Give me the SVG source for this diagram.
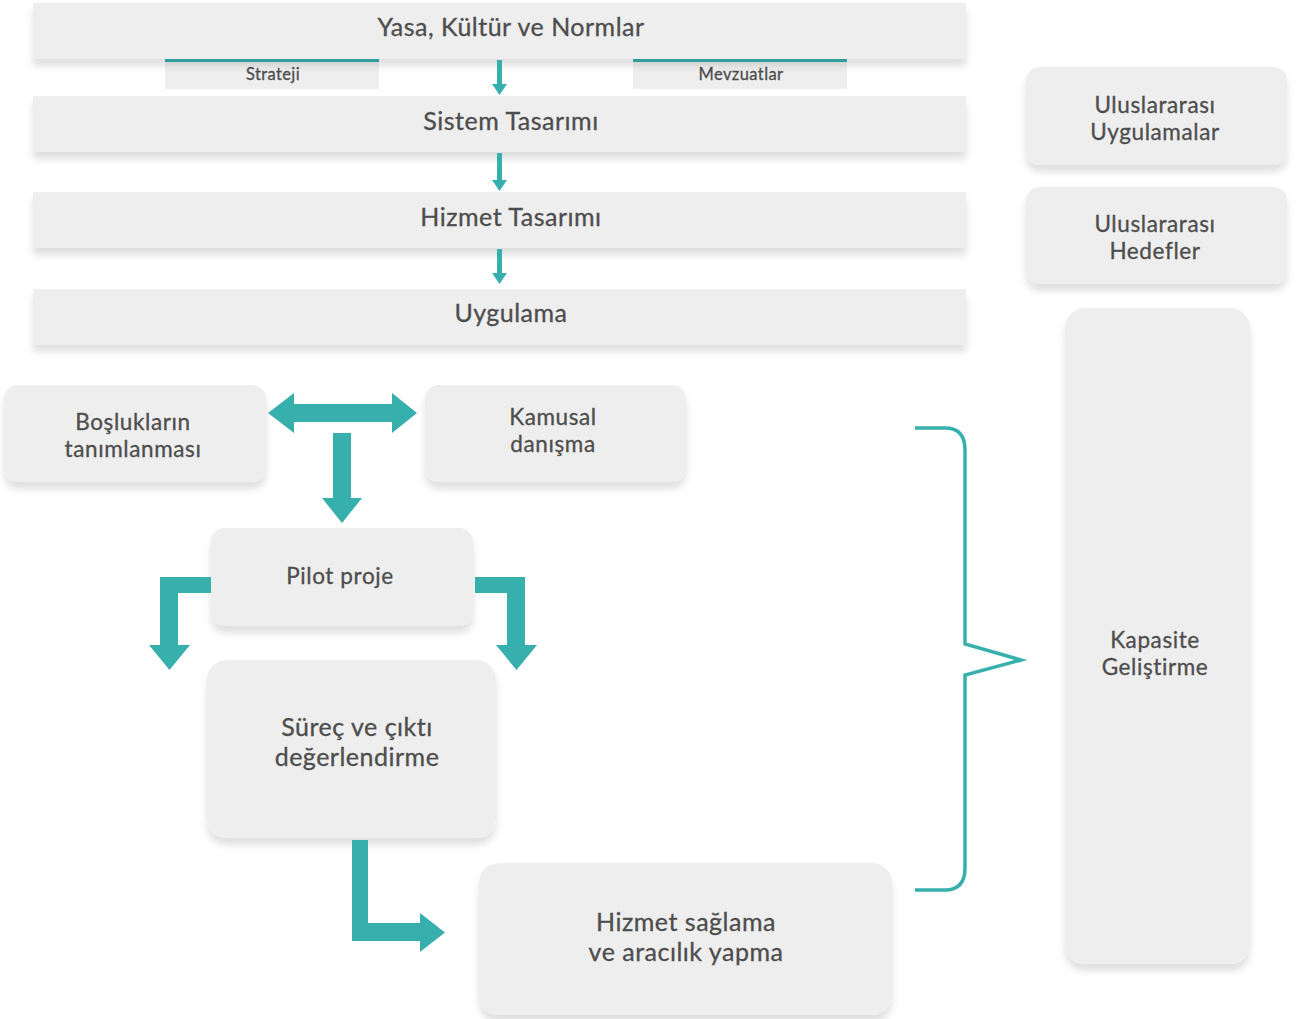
<svg xmlns="http://www.w3.org/2000/svg" width="1301" height="1019" viewBox="0 0 1301 1019">
<defs>
<filter id="sh" x="-5%" y="-20%" width="110%" height="160%">
<feDropShadow dx="0" dy="7" stdDeviation="3.5" flood-color="#000" flood-opacity="0.12"/>
</filter>
<style>
.box{fill:#eeeeee;filter:url(#sh)}
.tab{fill:#eeeeee}
.t{font-family:Lato,"Open Sans",sans-serif;fill:#4d4d4d;stroke:#4d4d4d;stroke-width:0.3px;text-anchor:middle}
.big{font-size:25px;letter-spacing:0.5px}
.mid{font-size:22.5px;letter-spacing:0.6px}
.sm{font-size:16.5px;letter-spacing:0.4px}
.teal{fill:#37b0ad}
.brace{fill:none;stroke:#37b0ad;stroke-width:3.5;stroke-linejoin:miter}
</style>
</defs>
<rect width="1301" height="1019" fill="#ffffff"/>

<g id="tab-strateji">
<rect class="tab" x="165" y="59" width="214" height="30"/>
<rect class="teal" x="165" y="59" width="214" height="3"/>
<text class="t sm" x="273" y="80">Strateji</text>
</g>
<g id="tab-mevzuatlar">
<rect class="tab" x="633" y="59" width="214" height="30"/>
<rect class="teal" x="633" y="59" width="214" height="3"/>
<text class="t sm" x="741" y="80">Mevzuatlar</text>
</g>

<g id="yasa">
<rect class="box" x="33" y="3" width="933" height="56"/>
<text class="t big" x="511" y="36">Yasa, Kültür ve Normlar</text>
</g>
<g id="sistem">
<rect class="box" x="33" y="96" width="933" height="56"/>
<text class="t big" x="511" y="130">Sistem Tasarımı</text>
</g>
<g id="hizmet-tasarimi">
<rect class="box" x="33" y="192" width="933" height="56"/>
<text class="t big" x="511" y="226">Hizmet Tasarımı</text>
</g>
<g id="uygulama">
<rect class="box" x="33" y="289" width="933" height="56"/>
<text class="t big" x="511" y="322">Uygulama</text>
</g>

<g id="uluslararasi-uygulamalar">
<rect class="box" x="1026" y="67" width="261" height="98" rx="14"/>
<text class="t mid" x="1155" y="113">Uluslararası</text>
<text class="t mid" x="1155" y="140">Uygulamalar</text>
</g>
<g id="uluslararasi-hedefler">
<rect class="box" x="1026" y="187" width="261" height="97" rx="14"/>
<text class="t mid" x="1155" y="232">Uluslararası</text>
<text class="t mid" x="1155" y="259">Hedefler</text>
</g>
<g id="kapasite">
<rect class="box" x="1065" y="308" width="185" height="656" rx="20"/>
<text class="t mid" x="1155" y="648">Kapasite</text>
<text class="t mid" x="1155" y="675">Geliştirme</text>
</g>

<g id="bosluklar">
<rect class="box" x="4" y="385" width="262" height="97" rx="14"/>
<text class="t mid" x="133" y="430">Boşlukların</text>
<text class="t mid" x="133" y="457">tanımlanması</text>
</g>
<g id="kamusal">
<rect class="box" x="425" y="385" width="261" height="97" rx="14"/>
<text class="t mid" x="553" y="425">Kamusal</text>
<text class="t mid" x="553" y="452">danışma</text>
</g>
<g id="pilot">
<rect class="box" x="211" y="528" width="262" height="98" rx="14"/>
<text class="t mid" x="340" y="584">Pilot proje</text>
</g>
<g id="surec">
<rect class="box" x="207" y="660" width="289" height="178" rx="20"/>
<text class="t big" x="357" y="736">Süreç ve çıktı</text>
<text class="t big" x="357" y="766">değerlendirme</text>
</g>
<g id="hizmet-saglama">
<rect class="box" x="479" y="863" width="413" height="152" rx="20"/>
<text class="t big" x="686" y="931">Hizmet sağlama</text>
<text class="t big" x="686" y="961">ve aracılık yapma</text>
</g>

<g id="connectors">
<rect class="teal" x="497" y="60" width="5" height="25"/>
<polygon class="teal" points="492,84 507,84 499.5,95"/>
<rect class="teal" x="497" y="153" width="5" height="28"/>
<polygon class="teal" points="492,180 507,180 499.5,191"/>
<rect class="teal" x="497" y="249" width="5" height="25"/>
<polygon class="teal" points="492,273 507,273 499.5,284"/>
<polygon class="teal" points="268,413 294,393 294,404 392,404 392,393 417,413 392,433 392,422 294,422 294,433"/>
<polygon class="teal" points="333,433 351,433 351,498 362,498 342,523 322,498 333,498"/>
<polygon class="teal" points="211,577 211,593 178,593 178,645 190,645 169.5,670 149,645 160,645 160,577"/>
<polygon class="teal" points="475,577 525,577 525,645 537,645 516.5,670 496,645 507,645 507,593 475,593"/>
<polygon class="teal" points="352,840 368,840 368,923 420,923 420,913 445,932.5 420,952 420,941 352,941"/>
<path class="brace" d="M915,428 H945 Q965,428 965,450 V644 L1021,660 L965,675 V868 Q965,890 945,890 H915"/>
</g>
</svg>
